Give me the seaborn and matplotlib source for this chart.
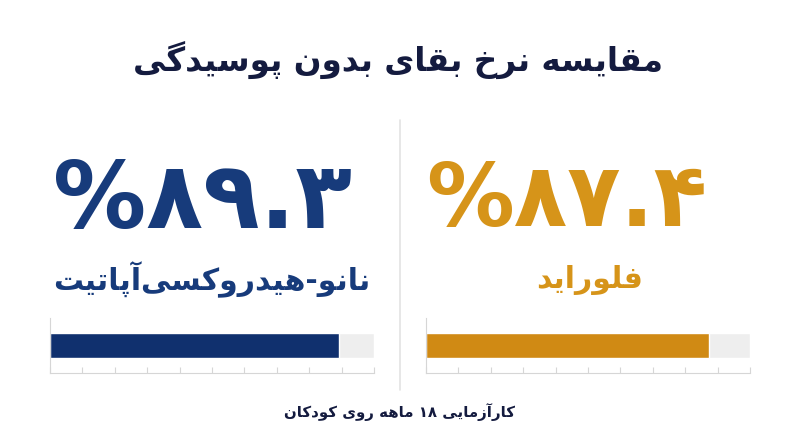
import re
import seaborn as sns
import matplotlib.pyplot as plt

# data
treatments = ["نانو-هیدروکسی\u200cآپاتیت", "فلوراید"]
survival = [89.3, 87.4]
value_labels = ["%۸۹.۳", "%۸۷.۴"]
title = "مقایسه نرخ بقای بدون پوسیدگی"
footer = "کارآزمایی ۱۸ ماهه روی کودکان"
text_colors = ["#173b7b", "#d69419"]
bar_colors = ["#10306e", "#d08a14"]

# minimal persian shaping (matplotlib has no bidi / joining support)
# letter: (isolated, final, initial, medial)
FORMS = {
    'ا': ('\uFE8D', '\uFE8E', None, None),
    'آ': ('\uFE81', '\uFE82', None, None),
    'د': ('\uFEA9', '\uFEAA', None, None),
    'ذ': ('\uFEAB', '\uFEAC', None, None),
    'ر': ('\uFEAD', '\uFEAE', None, None),
    'ز': ('\uFEAF', '\uFEB0', None, None),
    'ژ': ('\uFB8A', '\uFB8B', None, None),
    'و': ('\uFEED', '\uFEEE', None, None),
    'ب': ('\uFE8F', '\uFE90', '\uFE91', '\uFE92'),
    'پ': ('\uFB56', '\uFB57', '\uFB58', '\uFB59'),
    'ت': ('\uFE95', '\uFE96', '\uFE97', '\uFE98'),
    'ث': ('\uFE99', '\uFE9A', '\uFE9B', '\uFE9C'),
    'ج': ('\uFE9D', '\uFE9E', '\uFE9F', '\uFEA0'),
    'چ': ('\uFB7A', '\uFB7B', '\uFB7C', '\uFB7D'),
    'ح': ('\uFEA1', '\uFEA2', '\uFEA3', '\uFEA4'),
    'خ': ('\uFEA5', '\uFEA6', '\uFEA7', '\uFEA8'),
    'س': ('\uFEB1', '\uFEB2', '\uFEB3', '\uFEB4'),
    'ش': ('\uFEB5', '\uFEB6', '\uFEB7', '\uFEB8'),
    'ف': ('\uFED1', '\uFED2', '\uFED3', '\uFED4'),
    'ق': ('\uFED5', '\uFED6', '\uFED7', '\uFED8'),
    'ک': ('\uFB8E', '\uFB8F', '\uFB90', '\uFB91'),
    'گ': ('\uFB92', '\uFB93', '\uFB94', '\uFB95'),
    'ل': ('\uFEDD', '\uFEDE', '\uFEDF', '\uFEE0'),
    'م': ('\uFEE1', '\uFEE2', '\uFEE3', '\uFEE4'),
    'ن': ('\uFEE5', '\uFEE6', '\uFEE7', '\uFEE8'),
    'ه': ('\uFEE9', '\uFEEA', '\uFEEB', '\uFEEC'),
    'ی': ('\uFBFC', '\uFBFD', '\uFBFE', '\uFBFF'),
}


def shape(text):
    out = []
    for i, ch in enumerate(text):
        if ch not in FORMS:
            out.append(ch)
            continue
        prev = text[i - 1] if i > 0 else ''
        nxt = text[i + 1] if i + 1 < len(text) else ''
        join_prev = prev in FORMS and FORMS[prev][2] is not None
        join_next = FORMS[ch][2] is not None and nxt in FORMS
        iso, fin, ini, med = FORMS[ch]
        if join_prev and join_next:
            out.append(med)
        elif join_prev:
            out.append(fin)
        elif join_next:
            out.append(ini)
        else:
            out.append(iso)
    vis = ''.join(out).replace('\u200c', '')[::-1]
    # numbers keep left-to-right order
    return re.sub(r'[0-9۰-۹.]+', lambda m: m.group(0)[::-1], vis)


sns.set_style("white")
plt.rcParams['font.family'] = ['DejaVu Sans']

W, H = 800, 447
fig = plt.figure(figsize=(W / 100, H / 100), dpi=100)


def px(x, y):
    return x / W, 1 - y / H


fig.text(*px(398, 60), shape(title), ha='center', va='center',
         fontsize=23.5, fontweight='bold', color='#141b3f')

fig.text(*px(400, 412), shape(footer), ha='center', va='center',
         fontsize=10.8, fontweight='bold', color='#141b3f')

# divider
fig.add_artist(plt.Line2D([400 / W, 400 / W], [1 - 120 / H, 1 - 390 / H],
                          color='#e3e3e3', lw=1.2))

num_x = [203, 567]
lab_x = [212, 590]
num_size = [67, 63]
ax_left = [50, 426]

for i in range(2):
    fig.text(*px(num_x[i], 202), value_labels[i], ha='center', va='center',
             fontsize=num_size[i], fontweight='bold', color=text_colors[i])
    fig.text(*px(lab_x[i], 280), shape(treatments[i]), ha='center', va='center',
             fontsize=21.5, fontweight='bold', color=text_colors[i])

    ax = fig.add_axes([ax_left[i] / W, 1 - 373 / H, 324 / W, 55 / H])
    sns.barplot(x=[100], y=[treatments[i]], color='#eeeeee', width=0.4545,
                saturation=1, ax=ax)
    sns.barplot(x=[survival[i]], y=[treatments[i]], color=bar_colors[i], width=0.4545,
                saturation=1, ax=ax)
    ax.set_xlim(0, 100)
    ax.set_ylim(0.5, -0.5)
    ax.set_xticks(range(0, 101, 10))
    ax.set_xticklabels([])
    ax.set_yticks([])
    ax.set_xlabel('')
    ax.set_ylabel('')
    ax.tick_params(axis='x', bottom=True, direction='in', length=4,
                   color='#d6d6d6', width=0.8)
    for s in ['top', 'right']:
        ax.spines[s].set_visible(False)
    for s in ['left', 'bottom']:
        ax.spines[s].set_color('#d6d6d6')
        ax.spines[s].set_linewidth(0.8)
    ax.set_facecolor('none')

fig.savefig('out.png', dpi=100, facecolor='white')
